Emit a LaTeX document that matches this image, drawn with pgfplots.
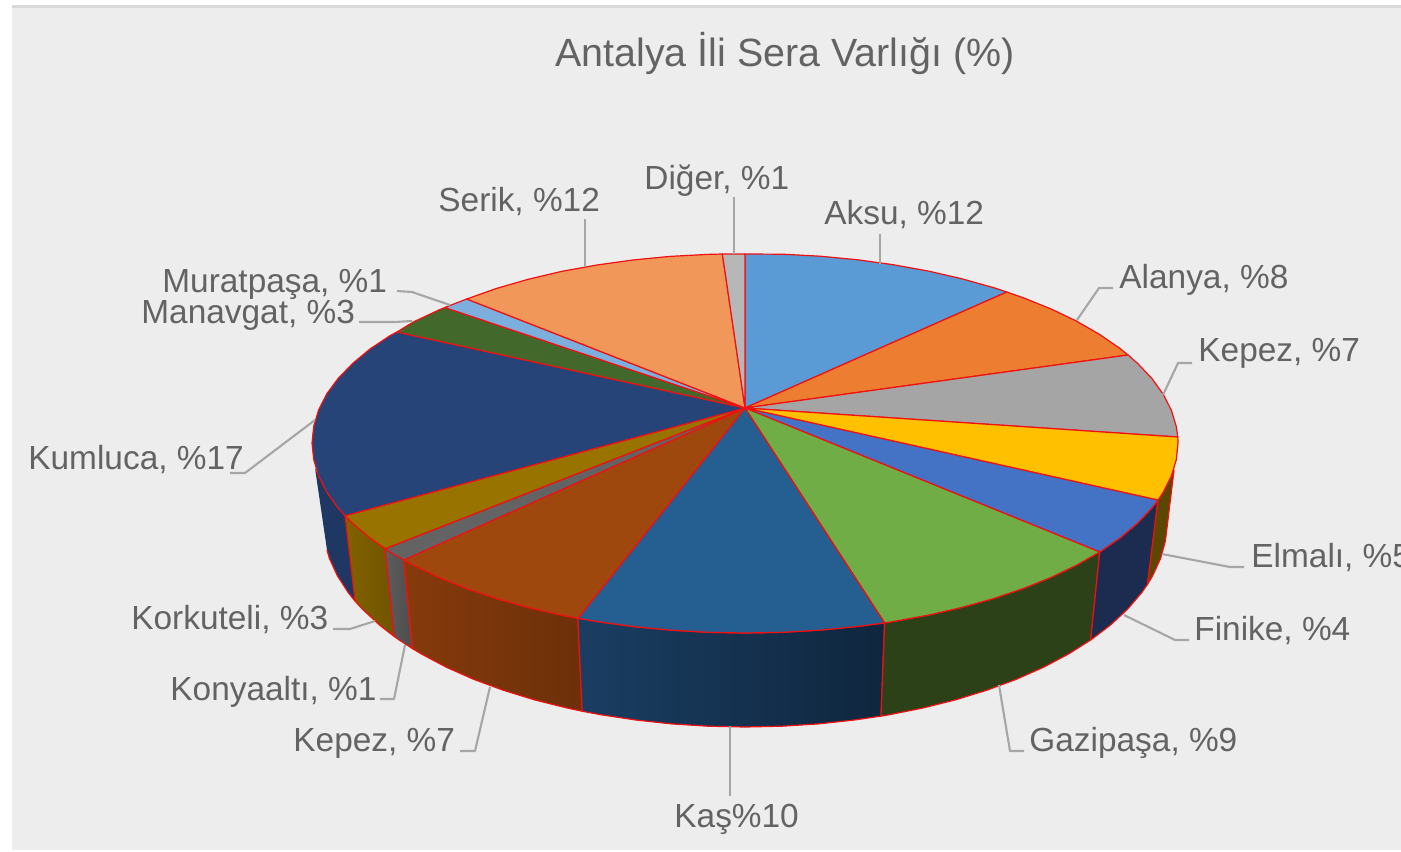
\documentclass[border=0pt]{standalone}
\usepackage{pgfplots}
\pgfplotsset{compat=1.18}
\usepackage{fontspec}
\setmainfont{Liberation Sans}
\definecolor{txt}{HTML}{636363}
\definecolor{lead}{HTML}{A6A6A6}
\definecolor{rim}{HTML}{F01010}
\definecolor{panel}{HTML}{EDEDED}
\definecolor{panelline}{HTML}{D9D9D9}
\definecolor{cAksu}{HTML}{5B9BD5}
\definecolor{cAlanya}{HTML}{ED7D31}
\definecolor{cKepez}{HTML}{A5A5A5}
\definecolor{cElmali}{HTML}{FFC000}
\definecolor{cFinike}{HTML}{4472C4}
\definecolor{cGazi}{HTML}{70AD47}
\definecolor{cKas}{HTML}{255E91}
\definecolor{cKepezB}{HTML}{9E480E}
\definecolor{cKonya}{HTML}{636363}
\definecolor{cKork}{HTML}{997300}
\definecolor{cKum}{HTML}{264478}
\definecolor{cMana}{HTML}{43682B}
\definecolor{cMura}{HTML}{7CAFDD}
\definecolor{cSerik}{HTML}{F1975A}
\definecolor{cDiger}{HTML}{B7B7B7}
\definecolor{wKum}{HTML}{1F3763}
\definecolor{wKorkL}{HTML}{826200}
\definecolor{wKorkR}{HTML}{705400}
\definecolor{wKonyaL}{HTML}{5C5C5C}
\definecolor{wKonyaR}{HTML}{4E4E4E}
\definecolor{wKepL}{HTML}{863A0C}
\definecolor{wKepR}{HTML}{6C3009}
\definecolor{wKasL}{HTML}{1A3E62}
\definecolor{wKasR}{HTML}{0F263E}
\definecolor{wGazi}{HTML}{2D4119}
\definecolor{wFin}{HTML}{1B2C50}
\definecolor{wElm}{HTML}{5C4700}
\newcommand{\lab}[3]{\node[anchor=base west,inner sep=0pt,text=txt,font=\fontsize{16.7}{20}\selectfont] at (axis cs:#1,#2) {#3};}
\tikzset{rimline/.style={draw=rim,line width=0.6pt,line join=round},
 ld/.style={draw=lead,line width=1.05pt,line join=round}}
\begin{document}
\begin{tikzpicture}
\begin{axis}[at={(0,0)},anchor=south west,scale only axis,width=700.5pt,height=425.5pt,
 xmin=0,xmax=1401,ymin=0,ymax=851,y dir=reverse,hide axis,clip=true,no markers]
% background
\addplot[draw=none,fill=white] coordinates {(0,0)(1401,0)(1401,851)(0,851)} -- cycle;
\addplot[draw=none,fill=panel] coordinates {(12,5)(1401,5)(1401,850)(12,850)} -- cycle;
\addplot[draw=none,fill=panelline] coordinates {(12,5)(1401,5)(1401,8)(12,8)} -- cycle;
% walls
\addplot[draw=none,fill=wKum] coordinates {(345,515.7)(338.1,508)(326.8,492.2)(318.6,476)(315,468)(327,550)(329.4,558.4)(337.4,575.8)(348.4,592.8)(355.1,601.1)} -- cycle;
\addplot[rimline,left color=wKorkL,right color=wKorkR] coordinates {(345,515.7)(352.6,523.3)(370,538)(385.2,548.7)(394.3,636.5)(379.5,625)(362.5,609.2)(355.1,601.1)} -- cycle;
\addplot[rimline,left color=wKonyaL,right color=wKonyaR] coordinates {(385.2,548.7)(390.3,552)(403.8,560)(412.5,648.6)(399.3,640)(394.3,636.5)} -- cycle;
\addplot[rimline,left color=wKepL,right color=wKepR] coordinates {(403.8,560)(413.3,565.1)(438.8,577.3)(466.7,588.5)(496.6,598.6)(528.5,607.5)(562,615.2)(577.9,618.3)(582.1,711.2)(566.7,707.9)(534,699.7)(502.9,690.1)(473.7,679.3)(446.6,667.3)(421.7,654.1)(412.5,648.6)} -- cycle;
\addplot[rimline,left color=wKasL,right color=wKasR] coordinates {(577.9,618.3)(596.9,621.5)(632.9,626.5)(669.8,630.1)(707.3,632.3)(745,633)(782.7,632.3)(820.2,630.1)(857.1,626.5)(884.6,622.9)(881,716.1)(854.2,720)(818.3,723.9)(781.8,726.2)(745,727)(708.2,726.2)(671.7,723.9)(635.8,720)(600.7,714.7)(582.1,711.2)} -- cycle;
\addplot[rimline,fill=wGazi] coordinates {(884.6,622.9)(893.1,621.5)(928,615.2)(961.5,607.5)(993.4,598.6)(1023.3,588.5)(1051.2,577.3)(1076.7,565.1)(1099.7,552)(1090.7,640)(1068.3,654.1)(1043.4,667.3)(1016.3,679.3)(987.1,690.1)(956,699.7)(923.3,707.9)(889.3,714.7)(881,716.1)} -- cycle;
\addplot[rimline,fill=wFin] coordinates {(1099.7,552)(1120,538)(1137.4,523.3)(1151.9,508)(1158,500.1)(1147.5,584.3)(1141.6,592.8)(1127.5,609.2)(1110.5,625)(1090.7,640)} -- cycle;
\addplot[rimline,fill=wElm] coordinates {(1158,500.1)(1163.2,492.2)(1171.4,476)(1174,470)(1165.4,540.8)(1160.6,558.4)(1152.6,575.8)(1147.5,584.3)} -- cycle;
% left wall outline
\addplot[rimline] coordinates {(355.1,601.1)(348.4,592.8)(337.4,575.8)(329.4,558.4)(327,550)};
% top faces
\addplot[rimline,fill=cAksu] coordinates {(745,408)(745,254)(782.7,254.2)(820.2,256.2)(857.1,259.7)(893.1,264.7)(928,271)(961.5,278.7)(993.4,287.6)(1006.8,292)} -- cycle;
\addplot[rimline,fill=cAlanya] coordinates {(745,408)(1006.8,292)(1023.3,297.8)(1051.2,309)(1076.7,321.2)(1099.7,334.5)(1120,348.5)(1128,355)} -- cycle;
\addplot[rimline,fill=cKepez] coordinates {(745,408)(1128,355)(1137.4,363.2)(1151.9,378.5)(1163.2,394.2)(1171.4,410.4)(1176.3,426.6)(1177.8,437)} -- cycle;
\addplot[rimline,fill=cElmali] coordinates {(745,408)(1177.8,437)(1178,443)(1176.3,459.6)(1171.4,476)(1163.2,492.2)(1158,500.1)} -- cycle;
\addplot[rimline,fill=cFinike] coordinates {(745,408)(1158,500.1)(1151.9,508)(1137.4,523.3)(1120,538)(1099.7,552)} -- cycle;
\addplot[rimline,fill=cGazi] coordinates {(745,408)(1099.7,552)(1076.7,565.1)(1051.2,577.3)(1023.3,588.5)(993.4,598.6)(961.5,607.5)(928,615.2)(893.1,621.5)(884.6,622.9)} -- cycle;
\addplot[rimline,fill=cKas] coordinates {(745,408)(884.6,622.9)(857.1,626.5)(820.2,630.1)(782.7,632.3)(745,633)(707.3,632.3)(669.8,630.1)(632.9,626.5)(596.9,621.5)(577.9,618.3)} -- cycle;
\addplot[rimline,fill=cKepezB] coordinates {(745,408)(577.9,618.3)(562,615.2)(528.5,607.5)(496.6,598.6)(466.7,588.5)(438.8,577.3)(413.3,565.1)(403.8,560)} -- cycle;
\addplot[rimline,fill=cKonya] coordinates {(745,408)(403.8,560)(390.3,552)(385.2,548.7)} -- cycle;
\addplot[rimline,fill=cKork] coordinates {(745,408)(385.2,548.7)(370,538)(352.6,523.3)(345,515.7)} -- cycle;
\addplot[rimline,fill=cKum] coordinates {(745,408)(345,515.7)(338.1,508)(326.8,492.2)(318.6,476)(313.7,459.6)(312,443)(313.7,426.4)(318.6,410)(326.8,393.8)(338.1,378.5)(352.6,363.5)(370,349)(390.3,335.5)(396.9,332)} -- cycle;
\addplot[rimline,fill=cMana] coordinates {(745,408)(396.9,332)(413.3,322)(438.8,310)(444.8,307.5)} -- cycle;
\addplot[rimline,fill=cMura] coordinates {(745,408)(444.8,307.5)(466.7,299)} -- cycle;
\addplot[rimline,fill=cSerik] coordinates {(745,408)(466.7,299)(496.6,288.4)(528.5,279.2)(562,271.3)(596.9,265)(632.9,260)(669.8,256.4)(707.3,254.4)(722.4,254)} -- cycle;
\addplot[rimline,fill=cDiger] coordinates {(745,408)(722.4,254)(745,254)} -- cycle;
% leader lines
\addplot[ld] coordinates {(734,197)(734,254)};
\addplot[ld] coordinates {(880,234)(880,264)};
\addplot[ld] coordinates {(585,219)(585,267)};
\addplot[ld] coordinates {(1113,288)(1099,288)(1077,320)};
\addplot[ld] coordinates {(1192,363)(1178,363)(1163,395)};
\addplot[ld] coordinates {(397,291)(412,292)(450,305)};
\addplot[ld] coordinates {(359,322)(395,322)(412,321)};
\addplot[ld] coordinates {(230,473)(245,473)(315,420)};
\addplot[ld] coordinates {(1244,567)(1230,567)(1162,554)};
\addplot[ld] coordinates {(1189,640)(1175,640)(1124,615)};
\addplot[ld] coordinates {(1024,751)(1010,751)(999,685)};
\addplot[ld] coordinates {(333,629)(350,629)(375,621)};
\addplot[ld] coordinates {(380,699)(394,699)(405,645)};
\addplot[ld] coordinates {(460,751)(475,751)(490,687)};
\addplot[ld] coordinates {(730,726)(730,796)};
% text
\node[anchor=base west,inner sep=0pt,text=txt,font=\fontsize{19.7}{24}\selectfont] at (axis cs:555,66) {Antalya İli Sera Varlığı (\%)};
\lab{644}{189}{Diğer, \%1}
\lab{824}{224}{Aksu, \%12}
\lab{438}{211}{Serik, \%12}
\lab{1119}{288}{Alanya, \%8}
\lab{1198}{361}{Kepez, \%7}
\lab{162}{292}{Muratpaşa, \%1}
\lab{141}{323}{Manavgat, \%3}
\lab{28}{469}{Kumluca, \%17}
\lab{1251}{567}{Elmalı, \%5}
\lab{1194}{640}{Finike, \%4}
\lab{1029}{751}{Gazipaşa, \%9}
\lab{131}{629}{Korkuteli, \%3}
\lab{170}{700}{Konyaaltı, \%1}
\lab{293}{751}{Kepez, \%7}
\lab{674}{827}{Kaş\%10}
\end{axis}
\pgfresetboundingbox
\path[use as bounding box] (0,0) rectangle (700.5pt,425.5pt);
\end{tikzpicture}
\end{document}
